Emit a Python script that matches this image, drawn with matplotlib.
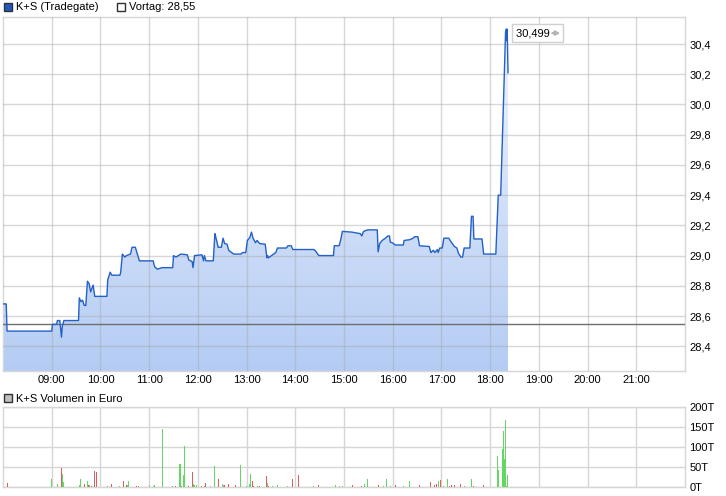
import numpy as np
import matplotlib
matplotlib.use("Agg")
import matplotlib.pyplot as plt
from matplotlib.colors import LinearSegmentedColormap
from matplotlib.patches import Rectangle
from matplotlib.transforms import offset_copy

plt.rcParams['font.family'] = ['Liberation Sans', 'DejaVu Sans']
plt.rcParams['font.size'] = 8

# Kursdaten K+S (Tradegate)
price_times = ["08:00", "08:04", "08:05", "09:00", "09:01", "09:06", "09:07", "09:10", "09:12", "09:13",
               "09:15", "09:33", "09:34", "09:36", "09:38", "09:40", "09:42", "09:44", "09:46", "09:48",
               "09:50", "09:51", "09:53", "10:08", "10:09", "10:12", "10:14", "10:24", "10:25", "10:27",
               "10:30", "10:32", "10:37", "10:39", "10:43", "10:46", "10:48", "11:05", "11:06", "11:07",
               "11:10", "11:16", "11:29", "11:30", "11:33", "11:39", "11:47", "11:49", "11:53", "11:54",
               "11:56", "12:05", "12:07", "12:08", "12:10", "12:19", "12:21", "12:22", "12:25", "12:29",
               "12:31", "12:33", "12:36", "12:38", "12:44", "12:53", "12:55", "12:59", "13:01", "13:04",
               "13:06", "13:08", "13:11", "13:13", "13:16", "13:23", "13:25", "13:26", "13:27", "13:32",
               "13:36", "13:38", "13:49", "13:51", "13:55", "13:57", "14:23", "14:25", "14:29", "14:47",
               "14:48", "14:54", "14:56", "14:58", "15:10", "15:20", "15:22", "15:24", "15:29", "15:41",
               "15:42", "15:44", "15:47", "15:51", "15:54", "15:56", "15:57", "16:01", "16:03", "16:13",
               "16:14", "16:21", "16:25", "16:27", "16:31", "16:33", "16:45", "16:47", "16:50", "16:52",
               "16:55", "16:56", "16:58", "17:01", "17:03", "17:09", "17:12", "17:16", "17:19", "17:21",
               "17:24", "17:26", "17:28", "17:35", "17:37", "17:39", "17:40", "17:50", "17:52", "18:07",
               "18:10", "18:13", "18:19", "18:20", "18:21", "18:21", "18:22"]
price_values = [28.68, 28.68, 28.50, 28.50, 28.545, 28.545, 28.57, 28.57, 28.46, 28.53,
                28.57, 28.57, 28.72, 28.695, 28.705, 28.67, 28.67, 28.83, 28.815, 28.76,
                28.79, 28.805, 28.73, 28.73, 28.84, 28.89, 28.87, 28.87, 28.89, 29.01,
                28.99, 29.00, 29.01, 29.055, 29.055, 29.00, 28.965, 28.965, 28.94, 28.925,
                28.91, 28.92, 28.92, 29.00, 28.99, 29.01, 29.005, 28.97, 28.96, 28.92,
                29.00, 29.005, 28.965, 29.00, 28.965, 28.965, 29.145, 29.125, 29.055, 29.055,
                29.115, 29.08, 29.075, 29.035, 29.01, 29.01, 29.02, 29.02, 29.10, 29.12,
                29.155, 29.115, 29.085, 29.10, 29.08, 29.075, 28.985, 29.00, 28.985, 29.005,
                29.02, 29.05, 29.05, 29.065, 29.065, 29.04, 29.04, 29.03, 29.00, 29.00,
                29.065, 29.065, 29.105, 29.16, 29.155, 29.145, 29.13, 29.16, 29.17, 29.17,
                29.025, 29.08, 29.10, 29.115, 29.13, 29.13, 29.09, 29.08, 29.07, 29.07,
                29.10, 29.105, 29.115, 29.125, 29.125, 29.065, 29.06, 29.02, 29.035, 29.02,
                29.04, 29.02, 29.05, 29.05, 29.115, 29.115, 29.09, 29.06, 29.05, 29.015,
                28.99, 28.99, 29.05, 29.05, 29.26, 29.26, 29.11, 29.11, 29.01, 29.01,
                29.40, 29.40, 30.48, 30.499, 30.42, 30.499, 30.21]
vortag = 28.55
high_label = "30,499"

# Volumen in Tausend Euro
vol_times = ["08:06", "09:00", "09:07", "09:12", "09:13", "09:14", "09:15", "09:34", "09:36", "09:40",
             "09:44", "09:45", "09:46", "09:49", "09:53", "09:55", "10:09", "10:14", "10:24", "10:28",
             "10:29", "10:32", "10:33", "10:35", "10:45", "10:47", "11:00", "11:05", "11:06", "11:16",
             "11:29", "11:33", "11:38", "11:40", "11:42", "11:43", "11:44", "11:49", "11:54", "11:55",
             "11:56", "11:58", "12:05", "12:08", "12:10", "12:15", "12:20", "12:21", "12:25", "12:30",
             "12:31", "12:33", "12:38", "12:46", "12:53", "13:00", "13:04", "13:05", "13:07", "13:08",
             "13:14", "13:16", "13:24", "13:25", "13:26", "13:27", "13:32", "13:38", "13:51", "13:56",
             "14:04", "14:23", "14:29", "14:49", "14:55", "14:58", "15:11", "15:22", "15:25", "15:29",
             "15:43", "15:49", "15:52", "15:57", "16:04", "16:13", "16:21", "16:33", "16:47", "16:51",
             "16:54", "16:56", "16:59", "17:03", "17:07", "17:10", "17:12", "17:16", "17:23", "17:28",
             "17:37", "17:39", "17:52", "18:09", "18:10", "18:15", "18:16", "18:18", "18:19", "18:20",
             "18:21"]
vol_values = [10, 19, 7, 47, 32, 5, 12, 5, 19, 7,
              14, 5, 5, 2, 39, 37, 2, 7, 2, 5,
              14, 5, 5, 14, 2, 2, 5, 2, 5, 144,
              2, 2, 57, 2, 29, 7, 102, 2, 37, 7,
              5, 5, 2, 2, 9, 2, 5, 52, 19, 7,
              5, 5, 7, 5, 54, 2, 7, 32, 14, 2,
              2, 2, 27, 5, 9, 2, 2, 5, 2, 19,
              29, 2, 5, 5, 2, 2, 5, 2, 7, 19,
              5, 2, 19, 2, 5, 2, 14, 5, 12, 5,
              7, 14, 17, 2, 19, 2, 5, 5, 7, 2,
              19, 2, 5, 77, 42, 95, 140, 70, 167, 2,
              29]
vol_dir = ["r", "g", "g", "r", "g", "g", "g", "g", "g", "r",
           "g", "r", "g", "r", "r", "r", "g", "r", "g", "g",
           "r", "r", "g", "g", "r", "r", "n", "g", "g", "g",
           "g", "r", "g", "r", "g", "n", "g", "r", "r", "g",
           "g", "g", "r", "g", "r", "n", "g", "g", "r", "n",
           "g", "r", "r", "r", "g", "g", "g", "g", "r", "r",
           "g", "r", "r", "r", "g", "r", "g", "g", "g", "r",
           "r", "g", "r", "g", "g", "g", "r", "r", "g", "g",
           "r", "g", "g", "g", "r", "g", "g", "r", "r", "r",
           "r", "g", "r", "g", "g", "r", "r", "r", "r", "g",
           "g", "r", "r", "g", "g", "g", "g", "g", "g", "g",
           "g"]

hour_ticks = ["09:00", "10:00", "11:00", "12:00", "13:00", "14:00", "15:00",
              "16:00", "17:00", "18:00", "19:00", "20:00", "21:00"]
price_ticks = [28.4, 28.6, 28.8, 29.0, 29.2, 29.4, 29.6, 29.8, 30.0, 30.2, 30.4]
vol_ticks = [0, 50, 100, 150, 200]


def to_min(s):
    h, m = s.split(":")
    return int(h) * 60 + int(m)


pt = np.array([to_min(s) for s in price_times], dtype=float)
pv = np.array(price_values)
vt = np.array([to_min(s) for s in vol_times], dtype=float)
vv = np.array(vol_values)
col_map = {"g": "#62d862", "r": "#dc5f5f", "n": "#b4b4b4"}
vc = [col_map[d] for d in vol_dir]

W, H = 726, 496
fig = plt.figure(figsize=(W / 100, H / 100), dpi=100)
fig.patch.set_facecolor("white")


def frac(x0, y0, x1, y1):
    # Pixelkoordinaten (oben links) -> Figure-Anteile
    return [x0 / W, 1 - y1 / H, (x1 - x0) / W, (y1 - y0) / H]


grid_col = "#d6d6d6"
xmin, xmax = to_min("08:00"), to_min("22:00")

# --- Kurs-Chart ---
ax = fig.add_axes(frac(3, 17, 685, 371))
ylo, yhi = 28.236, 30.579
ax.set_xlim(xmin, xmax)
ax.set_ylim(ylo, yhi)

poly = ax.fill_between(pt, pv, ylo, color="none", lw=0)
cmap = LinearSegmentedColormap.from_list("fill", ["#b4ccf4", "#f2f6fe"])
grad = np.linspace(0, 1, 256).reshape(-1, 1)
img = ax.imshow(grad, cmap=cmap, origin="lower", aspect="auto",
                extent=(xmin, xmax, ylo, yhi), zorder=1)
img.set_clip_path(poly.get_paths()[0], transform=ax.transData)

ax.plot(pt, pv, color="#2360c8", lw=1.0, zorder=4)
ax.axhline(vortag, color="#6e6e6e", lw=1.0, zorder=3)

ax.set_xticks([to_min(s) for s in hour_ticks])
ax.set_xticklabels(hour_ticks)
ax.set_yticks(price_ticks)
ax.set_yticklabels([f"{v:.1f}".replace(".", ",") for v in price_ticks])
ax.yaxis.tick_right()
ax.tick_params(length=0, pad=3, labelsize=8)
ax.grid(True, color="#a8a8a8", alpha=0.45, lw=1.0, zorder=2)
ax.set_axisbelow(False)
for s in ax.spines.values():
    s.set_color(grid_col)
    s.set_linewidth(1.0)

# Label Tageshoch
i_hi = int(np.argmax(pv))
hi_xy = (pt[i_hi], pv[i_hi])
ax.annotate(high_label + "   ", xy=hi_xy, xytext=(10, -4),
            textcoords="offset pixels", va="center", ha="left", fontsize=8, zorder=6,
            bbox=dict(boxstyle="square,pad=0.35", fc="white", ec="#d0d0d0", lw=1))
ax.annotate("", xy=hi_xy, xycoords=offset_copy(ax.transData, fig=fig, x=54, y=-4, units="dots"),
            xytext=hi_xy, textcoords=offset_copy(ax.transData, fig=fig, x=46, y=-4, units="dots"),
            arrowprops=dict(arrowstyle="-|>", color="#b4b4b4", lw=1.6, mutation_scale=6,
                            shrinkA=0, shrinkB=0), zorder=7)

# --- Volumen-Chart ---
axv = fig.add_axes(frac(3, 407, 685, 487))
axv.bar(vt, vv, width=1.25, color=vc, align="center", zorder=3, lw=0, antialiased=False)
axv.set_xlim(xmin, xmax)
axv.set_ylim(0, 200)
axv.set_xticks([to_min(s) for s in hour_ticks])
axv.set_xticklabels([])
axv.set_yticks(vol_ticks)
axv.set_yticklabels([f"{v}T" for v in vol_ticks])
axv.yaxis.tick_right()
axv.tick_params(length=0, pad=3, labelsize=8)
axv.grid(True, color=grid_col, lw=1.0, zorder=1)
axv.set_axisbelow(True)
for s in axv.spines.values():
    s.set_color(grid_col)
    s.set_linewidth(1.0)

# --- Legenden ---
def legend_box(x, y, fc, ec):
    fig.patches.append(Rectangle((x / W, 1 - (y + 8) / H), 8 / W, 8 / H,
                                 transform=fig.transFigure, fc=fc, ec=ec, lw=1))


legend_box(4, 3, "#1f58c0", "#303030")
fig.text(16 / W, 1 - 7.5 / H, "K+S (Tradegate)", va="center", ha="left", fontsize=8)
legend_box(117, 3, "white", "#303030")
fig.text(129 / W, 1 - 7.5 / H, "Vortag: " + f"{vortag:.2f}".replace(".", ","),
         va="center", ha="left", fontsize=8)
legend_box(4, 394, "#c0c0c0", "#303030")
fig.text(16 / W, 1 - 398.5 / H, "K+S Volumen in Euro", va="center", ha="left", fontsize=8)

fig.savefig("out.png", dpi=100)
